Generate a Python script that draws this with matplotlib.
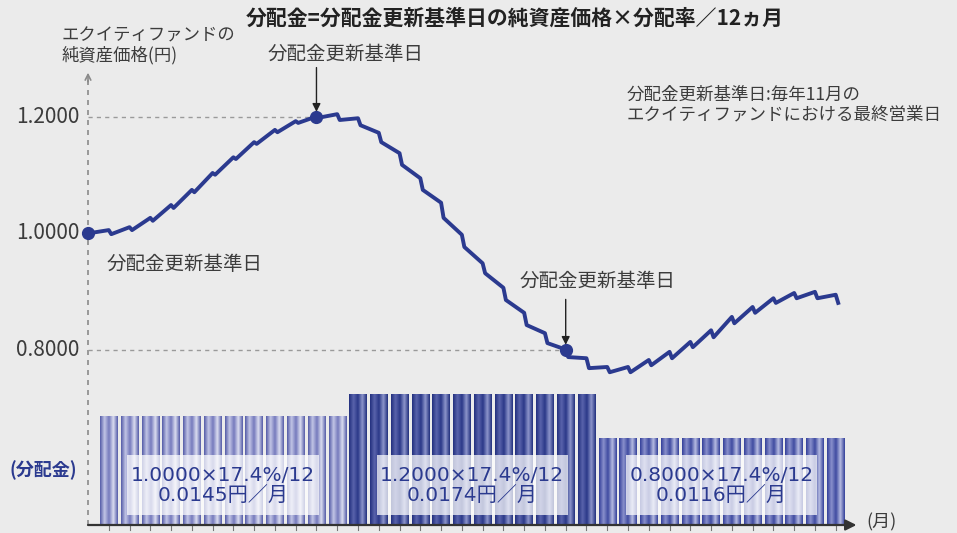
import matplotlib.pyplot as plt
import numpy as np
from matplotlib.colors import LinearSegmentedColormap
from matplotlib.patches import Rectangle

plt.rcParams['font.family'] = ['Noto Sans CJK JP', 'DejaVu Sans']

# NAV (円): value just before and just after each monthly payout
nav_before = [1.000, 1.005, 1.010, 1.026, 1.048, 1.074, 1.103, 1.130, 1.156, 1.177,
              1.192, 1.200, 1.204, 1.197, 1.172, 1.137, 1.094, 1.052, 0.997, 0.948,
              0.906, 0.863, 0.828, 0.800, 0.785, 0.770, 0.770, 0.782, 0.796, 0.813,
              0.833, 0.856, 0.873, 0.888, 0.897, 0.899, 0.894]
nav_after = [1.000, 0.998, 1.005, 1.021, 1.043, 1.070, 1.100, 1.127, 1.153, 1.173,
             1.189, 1.198, 1.194, 1.185, 1.156, 1.117, 1.074, 1.026, 0.976, 0.931,
             0.885, 0.842, 0.811, 0.787, 0.768, 0.761, 0.761, 0.773, 0.785, 0.804,
             0.821, 0.845, 0.863, 0.880, 0.888, 0.888, 0.880]
record_months = [0, 11, 23]
base_navs = [1.0000, 1.2000, 0.8000]
payout_rate = 17.4
dividends = [0.0145, 0.0174, 0.0116]
y_ticks = [1.2, 1.0, 0.8]

NAVY = '#2b3a8f'
GRAY_TXT = '#3c3c3c'
BG = '#ebebeb'

fig = plt.figure(figsize=(9.57, 5.33), dpi=100, facecolor=BG)
ax = fig.add_axes([0, 0, 1, 1])
ax.set_facecolor(BG)
ax.set_xlim(-4.237, 41.84)
ax.set_ylim(0.485, 1.4)
ax.axis('off')

# bar axis for the monthly dividend
ax2 = ax.twinx()
ax2.axis('off')

bar_cmaps = [
    ['#555ca8', '#c3c6e6', '#7479bc', '#dcdef1', '#555ca8'],
    ['#22307e', '#5a64ac', '#2a3888', '#8e96cc', '#22307e'],
    ['#34409a', '#8a91cc', '#3e4aa0', '#b7bce2', '#34409a'],
]
grad = np.linspace(0, 1, 64).reshape(1, -1)
for g, div in enumerate(dividends):
    cmap = LinearSegmentedColormap.from_list(f'g{g}', bar_cmaps[g])
    for k in range(12):
        m = g * 12 + k + 1
        ax2.imshow(grad, cmap=cmap, aspect='auto', interpolation='bilinear',
                   extent=(m - 0.42, m + 0.42, 0, div), zorder=2)
ax2.set_xlim(-4.237, 41.84)
ax2.set_ylim(-0.00107, 0.07024)

# formula boxes
for g, (nav, div) in enumerate(zip(base_navs, dividends)):
    cx = g * 12 + 6.5
    ax2.add_patch(Rectangle((cx - 4.6, 0.00134), 9.2, 0.00802, facecolor='white',
                            alpha=0.72, edgecolor='none', zorder=5))
    ax2.text(cx, 0.0053, f'{nav:.4f}×{payout_rate}%/12\n{div:.4f}円／月',
             ha='center', va='center', fontsize=14.5, color=NAVY,
             family=['DejaVu Sans', 'Noto Sans CJK JP'],
             linespacing=1.0, zorder=6)

# NAV line
xs, ys = [], []
for k, (b, a) in enumerate(zip(nav_before, nav_after)):
    xs.extend([k, k + 0.12])
    ys.extend([b, a])
ax.plot(xs, ys, color=NAVY, lw=2.8, solid_joinstyle='round', zorder=4)
ax.plot(record_months, [nav_before[m] for m in record_months], 'o',
        color=NAVY, ms=8.5, zorder=5)

# axes lines
ax.plot([0, 0], [0.4987, 1.265], color='#8a8a8a', lw=1.2, ls=(0, (3, 3)), zorder=1)
ax.annotate('', xy=(0, 1.28), xytext=(0, 1.255),
            arrowprops=dict(arrowstyle='->', color='#8a8a8a', lw=1.2))
ax2.annotate('', xy=(37.0, 0), xytext=(0, 0),
             arrowprops=dict(arrowstyle='-|>', color='#333333', lw=1.6,
                             mutation_scale=16, shrinkA=0, shrinkB=0), zorder=7)
for m in range(1, 37):
    ax.plot([m, m], [0.4987, 0.491], color='#777777', lw=0.8)

# guide lines and y tick labels
for v, end in zip([1.2, 0.8], [11, 23]):
    ax.plot([0, end], [v, v], color='#9a9a9a', lw=1.0, ls=(0, (3, 3)), zorder=1)
for v in y_ticks:
    ax.text(-0.4, v, f'{v:.4f}', ha='right', va='center', fontsize=15,
            color=GRAY_TXT)

# texts
ax.text(20.56, 1.368, '分配金=分配金更新基準日の純資産価格×分配率／12ヵ月',
        ha='center', va='center', fontsize=15, fontweight='bold', color='#222222')
ax.text(-1.25, 1.322, 'エクイティファンドの\n純資産価格(円)', ha='left', va='center',
        fontsize=12.5, color=GRAY_TXT, linespacing=1.1)
ax.text(12.4, 1.306, '分配金更新基準日', ha='center', va='center',
        fontsize=14, color=GRAY_TXT)
ax.annotate('', xy=(11, 1.208), xytext=(11, 1.284),
            arrowprops=dict(arrowstyle='-|>', color='#222222', lw=1.0,
                            mutation_scale=12, shrinkA=0, shrinkB=0))
ax.text(0.9, 0.946, '分配金更新基準日', ha='left', va='center',
        fontsize=14, color=GRAY_TXT)
ax.text(24.55, 0.916, '分配金更新基準日', ha='center', va='center',
        fontsize=14, color=GRAY_TXT)
ax.annotate('', xy=(23, 0.808), xytext=(23, 0.886),
            arrowprops=dict(arrowstyle='-|>', color='#222222', lw=1.0,
                            mutation_scale=12, shrinkA=0, shrinkB=0))
ax.text(25.95, 1.22, '分配金更新基準日:毎年11月の\nエクイティファンドにおける最終営業日',
        ha='left', va='center', fontsize=12.6, color=GRAY_TXT, linespacing=1.15)
ax.text(-3.8, 0.5928, '(分配金)', ha='left', va='center', fontsize=13,
        fontweight='bold', color=NAVY)
ax.text(37.5, 0.503, '(月)', ha='left', va='center', fontsize=13, color=GRAY_TXT)

fig.savefig('out.png', dpi=100, facecolor=BG)
